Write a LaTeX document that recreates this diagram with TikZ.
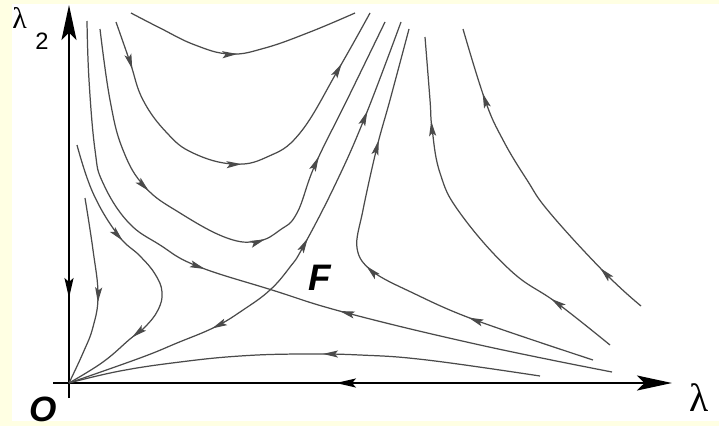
\documentclass[tikz,border=0pt]{standalone}
\usepackage{fontspec}
\setmainfont{Liberation Sans}
\newfontfamily\greekfont{Liberation Serif}
\usetikzlibrary{arrows.meta,decorations.markings}
\definecolor{paleyellow}{HTML}{FFFFE3}
\definecolor{trajgray}{HTML}{4A4A4A}
\tikzset{
  axis/.style={line width=1.1pt,draw=black},
  traj/.style={line width=0.7pt,draw=trajgray},
  fwd/.style={postaction={decorate,decoration={markings,mark=at position #1 with {\arrow{Stealth[length=3mm,width=1.4mm,inset=0.6mm]}}}}},
  bwd/.style={postaction={decorate,decoration={markings,mark=at position #1 with {\arrowreversed{Stealth[length=3mm,width=1.4mm,inset=0.6mm]}}}}},
  axbwd/.style={postaction={decorate,decoration={markings,mark=at position #1 with {\arrowreversed{Stealth[length=4mm,width=1.8mm,inset=0.8mm]}}}}},
  axtip/.style={-{Stealth[length=7mm,width=3mm,inset=1.5mm]}},
  pointlbl/.style={font=\fontsize{21}{21}\selectfont\bfseries\itshape,inner sep=0pt},
  greeklbl/.style={font=\greekfont,inner sep=0pt}
}
\begin{document}
\begin{tikzpicture}[x=0.02cm,y=-0.02cm]
% fond
\fill[paleyellow] (0,0) rectangle (719,426);
\fill[white] (12,4) rectangle (719,421);
\useasboundingbox (0,0) rectangle (719,426);

% axes
\draw[axis,axtip,axbwd=2cm] (69,398) -- (69,5);
\draw[axis,axtip,axbwd=5.66cm] (53,383) -- (672,383);
\node[greeklbl,anchor=base west] (lamtwo) at (12,29)
  {{\fontsize{17}{17}\selectfont λ}\hspace{0.17cm}\raisebox{-0.42cm}{\fontsize{13.5}{13.5}\selectfont\rmfamily 2}};
\node[greeklbl,font=\greekfont\fontsize{22.5}{22.5}\selectfont] (lamone) at (699,398) {λ};
\node[pointlbl,font=\fontsize{20}{20}\selectfont\bfseries\itshape] (orig) at (43,409) {O};
\node[pointlbl] (saddle) at (320,278) {F};

% trajectoires du haut
\draw[traj,fwd=0.48] plot[smooth,tension=0.7] coordinates {(131,13) (160,28) (195,45) (230,54) (265,48) (310,32) (355,13)};
\draw[traj,fwd=0.12,fwd=0.50,fwd=0.86] plot[smooth,tension=0.7] coordinates {(116,22) (130,62) (143,100) (167,133) (193,153) (233,164) (267,157) (300,133) (338,70) (370,13)};
\draw[traj,fwd=0.31,fwd=0.545,fwd=0.73] plot[smooth,tension=0.7] coordinates {(100,29) (110,100) (123,150) (145,187) (180,213) (227,238) (258,241) (280,230) (297,213) (315,165) (347,100) (385,22)};

% separatrices par F
\draw[traj,fwd=0.417,bwd=0.613] plot[smooth,tension=0.7] coordinates {(87,21) (89,80) (95,150) (103,183) (128,222) (160,245) (197,266) (272,290) (347,313) (480,345) (612,372)};
\draw[traj,bwd=0.293,fwd=0.549,fwd=0.818] plot[smooth,tension=0.7] coordinates {(69,383) (140,358) (177,343) (215,327) (243,310) (270,290) (290,267) (303,247) (335,185) (365,117) (401,22)};

% vers O
\draw[traj,fwd=0.55] plot[smooth,tension=0.7] coordinates {(85,198) (93,250) (98,295) (93,327) (83,353) (69,383)};
\draw[traj,fwd=0.347,fwd=0.746] plot[smooth,tension=0.7] coordinates {(77,145) (93,193) (118,235) (140,256) (155,274) (162,292) (158,310) (145,327) (130,339) (103,362) (69,383)};
\draw[traj,fwd=0.46] plot[smooth,tension=0.7] coordinates {(540,376) (427,360) (360,355) (300,354) (240,356) (180,362) (120,371) (69,383)};

% trajectoires de droite
\draw[traj,fwd=0.267,fwd=0.50,fwd=0.766] plot[smooth,tension=0.6] coordinates {(593,360) (475,320) (413,293) (372,271) (357,248) (363,210) (377,147) (390,100) (409,29)};
\draw[traj,fwd=0.195,fwd=0.78] plot[smooth,tension=0.7] coordinates {(610,345) (557,303) (510,270) (460,213) (440,173) (432,128) (430,100) (425,37)};
\draw[traj,fwd=0.166,fwd=0.80] plot[smooth,tension=0.7] coordinates {(641,306) (605,273) (550,213) (527,180) (503,140) (485,100) (463,29)};
\end{tikzpicture}
\end{document}
